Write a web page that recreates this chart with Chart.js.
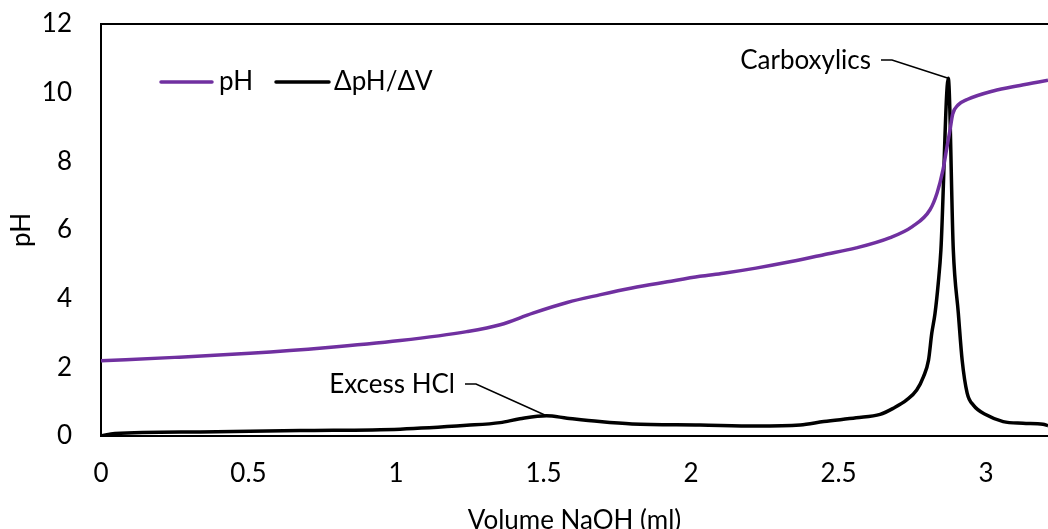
<!DOCTYPE html>
<html lang="en">
<head>
  <meta charset="UTF-8" />
  <title>Titration curve: pH and ΔpH/ΔV</title>
  <script src="https://cdn.jsdelivr.net/npm/chart.js"></script>
  <style>
    body {
      margin: 0;
      background: #ffffff;
    }
    #titration {
      display: block;
    }
  </style>
</head>
<body>
  <canvas id="titration" width="1048" height="529"></canvas>

  <script>
    // pH reading vs. volume of NaOH added
    const phVolume = [0, 0.25, 0.505, 0.76, 1.014, 1.24, 1.353, 1.464, 1.58, 1.69, 1.80, 1.92, 2.03, 2.11, 2.22, 2.34, 2.45, 2.56, 2.675, 2.75, 2.81, 2.834, 2.854, 2.866, 2.878, 2.887, 2.905, 2.936, 3.024, 3.115, 3.21];
    const phValues = [2.19, 2.29, 2.41, 2.57, 2.78, 3.04, 3.24, 3.58, 3.89, 4.11, 4.31, 4.49, 4.65, 4.74, 4.89, 5.08, 5.28, 5.48, 5.78, 6.10, 6.59, 7.08, 7.75, 8.34, 8.92, 9.38, 9.64, 9.80, 10.05, 10.21, 10.36];

    // first derivative of the pH curve
    const derivVolume = [0, 0.047, 0.336, 0.675, 1.014, 1.24, 1.353, 1.42, 1.51, 1.58, 1.69, 1.80, 2.03, 2.22, 2.37, 2.45, 2.56, 2.641, 2.686, 2.731, 2.765, 2.788, 2.805, 2.816, 2.827, 2.838, 2.847, 2.872, 2.889, 2.906, 2.919, 2.936, 2.957, 3.002, 3.058, 3.125, 3.193, 3.21];
    const derivValues = [0, 0.07, 0.12, 0.16, 0.20, 0.31, 0.39, 0.50, 0.59, 0.52, 0.42, 0.35, 0.32, 0.29, 0.32, 0.42, 0.53, 0.63, 0.81, 1.05, 1.34, 1.73, 2.21, 2.99, 3.57, 4.45, 5.42, 10.42, 5.42, 3.58, 2.21, 1.25, 0.90, 0.61, 0.42, 0.37, 0.34, 0.30];

    const seriesNames = ['pH', 'ΔpH/ΔV'];
    const seriesColors = ['#7030a0', '#000000'];

    // labelled peaks: [text, index into derivative series]
    const peakNotes = [
      ['Carboxylics', 27],
      ['Excess HCl', 8]
    ];

    const FONT = '26px Lato';

    function toPoints(xs, ys) {
      return xs.map((x, i) => ({ x: x, y: ys[i] }));
    }

    // top frame line, in-plot legend and callout labels
    const decorations = {
      id: 'decorations',
      afterDatasetsDraw(chart) {
        const ctx = chart.ctx;
        const area = chart.chartArea;
        const xs = chart.scales.x;
        const ys = chart.scales.y;

        ctx.save();
        ctx.strokeStyle = '#000';
        ctx.lineWidth = 2;
        ctx.beginPath();
        ctx.moveTo(area.left - 1, area.top);
        ctx.lineTo(area.right, area.top);
        ctx.stroke();

        // legend
        ctx.font = FONT;
        ctx.textBaseline = 'middle';
        ctx.textAlign = 'left';
        ctx.lineWidth = 3.5;
        ctx.lineCap = 'round';
        const legendItems = [[161, 212, 219], [276, 329, 334]];
        legendItems.forEach((item, i) => {
          ctx.strokeStyle = seriesColors[i];
          ctx.beginPath();
          ctx.moveTo(item[0], 82);
          ctx.lineTo(item[1], 82);
          ctx.stroke();
          ctx.fillStyle = '#000';
          ctx.fillText(seriesNames[i], item[2], 82);
        });

        // callouts pointing at the derivative peaks
        const noteSpots = [[871, 61], [455, 385]];
        ctx.lineWidth = 1.5;
        ctx.lineCap = 'butt';
        ctx.strokeStyle = '#000';
        ctx.textAlign = 'right';
        peakNotes.forEach((note, i) => {
          const [tx, ty] = noteSpots[i];
          const px = xs.getPixelForValue(derivVolume[note[1]]);
          const py = ys.getPixelForValue(derivValues[note[1]]);
          ctx.fillText(note[0], tx, ty);
          ctx.beginPath();
          ctx.moveTo(tx + 10, ty - 1);
          ctx.lineTo(tx + 21, ty - 1);
          ctx.lineTo(px, py);
          ctx.stroke();
        });
        ctx.restore();
      }
    };

    const tickFont = { family: 'Lato', size: 26 };

    new Chart(document.getElementById('titration'), {
      type: 'scatter',
      data: {
        datasets: [
          {
            label: seriesNames[0],
            data: toPoints(phVolume, phValues),
            borderColor: seriesColors[0],
            borderWidth: 3.5,
            showLine: true,
            pointRadius: 0,
            cubicInterpolationMode: 'monotone'
          },
          {
            label: seriesNames[1],
            data: toPoints(derivVolume, derivValues),
            borderColor: seriesColors[1],
            borderWidth: 3.5,
            showLine: true,
            pointRadius: 0,
            cubicInterpolationMode: 'monotone'
          }
        ]
      },
      options: {
        responsive: false,
        animation: false,
        layout: {
          padding: { top: 24, right: 0, left: 0, bottom: 0 }
        },
        plugins: {
          legend: { display: false },
          tooltip: { enabled: false }
        },
        scales: {
          x: {
            type: 'linear',
            min: 0,
            max: 3.21,
            afterFit(axis) { axis.height = 93; },
            // invisible tick marks push the labels away from the axis line
            grid: { display: false, drawTicks: true, tickLength: 18, tickColor: 'rgba(0,0,0,0)' },
            border: { display: true, color: '#000', width: 2 },
            ticks: {
              stepSize: 0.5,
              includeBounds: false,
              padding: 4,
              color: '#000',
              font: tickFont,
              callback: (v) => String(v)
            },
            title: {
              display: true,
              text: 'Volume NaOH (ml)',
              color: '#000',
              font: tickFont,
              padding: { top: 0, bottom: -7 }
            }
          },
          y: {
            min: 0,
            max: 12,
            afterFit(axis) { axis.width = 101; },
            grid: { display: false, drawTicks: true, tickLength: 25, tickColor: 'rgba(0,0,0,0)' },
            border: { display: true, color: '#000', width: 2 },
            ticks: {
              stepSize: 2,
              padding: 4,
              color: '#000',
              font: tickFont
            },
            title: {
              display: true,
              text: 'pH',
              color: '#000',
              font: tickFont,
              padding: { top: 6, bottom: 0 }
            }
          }
        }
      },
      plugins: [decorations]
    });
  </script>
</body>
</html>
